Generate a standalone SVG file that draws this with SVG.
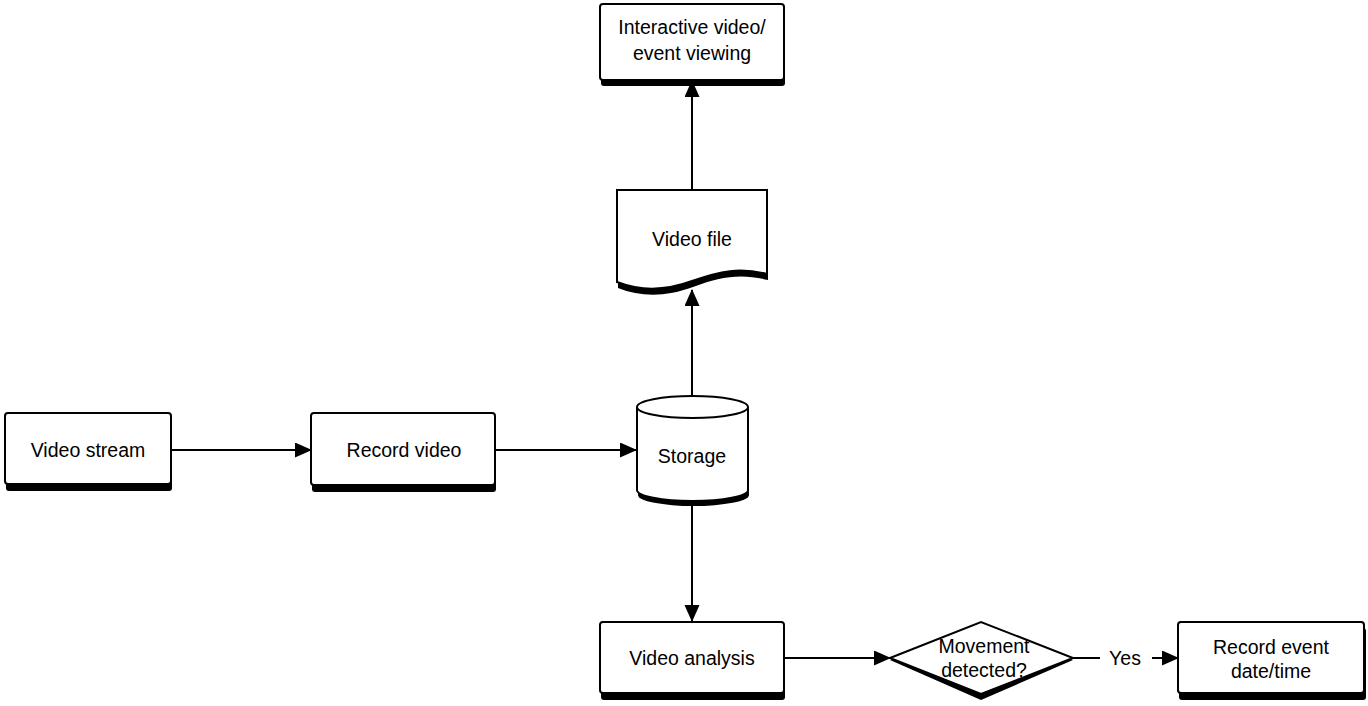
<svg xmlns="http://www.w3.org/2000/svg" width="1368" height="706" viewBox="0 0 1368 706">
<defs>
<style>
.box{fill:#fff;stroke:#000;stroke-width:2}
.sh{fill:#000}
.t{font-family:"Liberation Sans",Arial,sans-serif;font-size:19.5px;fill:#000;text-anchor:middle}
.ln{fill:none;stroke:#000;stroke-width:2}
</style>
<marker id="ah" markerUnits="userSpaceOnUse" markerWidth="18" markerHeight="16" refX="16" refY="7.5" orient="auto">
<path d="M0,0 L17,7.5 L0,15 Z" fill="#000"/>
</marker>
</defs>
<rect width="1368" height="706" fill="#fff"/>
<g id="connectors">
<line class="ln" x1="171" y1="450" x2="311" y2="450" marker-end="url(#ah)"/>
<line class="ln" x1="495" y1="450" x2="636" y2="450" marker-end="url(#ah)"/>
<line class="ln" x1="692" y1="396" x2="692" y2="290" marker-end="url(#ah)"/>
<line class="ln" x1="692" y1="190" x2="692" y2="81" marker-end="url(#ah)"/>
<line class="ln" x1="692" y1="505" x2="692" y2="621" marker-end="url(#ah)"/>
<line class="ln" x1="784" y1="658" x2="890" y2="658" marker-end="url(#ah)"/>
<line class="ln" x1="1073" y1="658" x2="1100" y2="658"/>
<line class="ln" x1="1152" y1="658" x2="1178" y2="658" marker-end="url(#ah)"/>
<text class="t" x="1125" y="665">Yes</text>
</g>
<g id="video-stream">
<rect class="sh" x="6" y="419" width="166" height="72" rx="3"/>
<rect class="box" x="5" y="413" width="166" height="71" rx="3"/>
<text class="t" x="88" y="457">Video stream</text>
</g>
<g id="record-video">
<rect class="sh" x="312" y="419" width="184" height="73" rx="3"/>
<rect class="box" x="311" y="413" width="184" height="72" rx="3"/>
<text class="t" x="404" y="457">Record video</text>
</g>
<g id="storage">
<path class="sh" d="M638,412 A55.5,11 0 0 1 749,412 V495 A55.5,11 0 0 1 638,495 Z"/>
<path class="box" d="M637,407 A55.5,11 0 0 1 748,407 V490 A55.5,11 0 0 1 637,490 Z"/>
<path class="ln" d="M637,407 A55.5,11 0 0 0 748,407" stroke-width="1.5"/>
<text class="t" x="692" y="463">Storage</text>
</g>
<g id="video-file">
<path class="sh" d="M618,196 H768 V280 C740,273 720,277 693,287 C666,297 641,297 618,288 Z"/>
<path class="box" d="M617,190 H767 V274 C740,267 720,271 692,281 C665,291 640,291 617,282 Z"/>
<text class="t" x="692" y="246">Video file</text>
</g>
<g id="interactive">
<rect class="sh" x="601" y="9" width="184" height="77" rx="3"/>
<rect class="box" x="600" y="4" width="184" height="76" rx="3"/>
<text class="t" x="692" y="34">Interactive video/</text>
<text class="t" x="692" y="60">event viewing</text>
</g>
<g id="video-analysis">
<rect class="sh" x="601" y="628" width="184" height="72" rx="3"/>
<rect class="box" x="600" y="622" width="184" height="71" rx="3"/>
<text class="t" x="692" y="665">Video analysis</text>
</g>
<g id="decision">
<path class="sh" d="M890,660 L981,626 L1073,660 L981,700 Z"/>
<path class="box" d="M890,658 L981,622 L1073,658 L981,694 Z"/>
<text class="t" x="984" y="653">Movement</text>
<text class="t" x="984" y="677">detected?</text>
</g>
<g id="record-event">
<rect class="sh" x="1179" y="628" width="187" height="72" rx="3"/>
<rect class="box" x="1178" y="622" width="186" height="71" rx="3"/>
<text class="t" x="1271" y="654">Record event</text>
<text class="t" x="1271" y="678">date/time</text>
</g>
</svg>
